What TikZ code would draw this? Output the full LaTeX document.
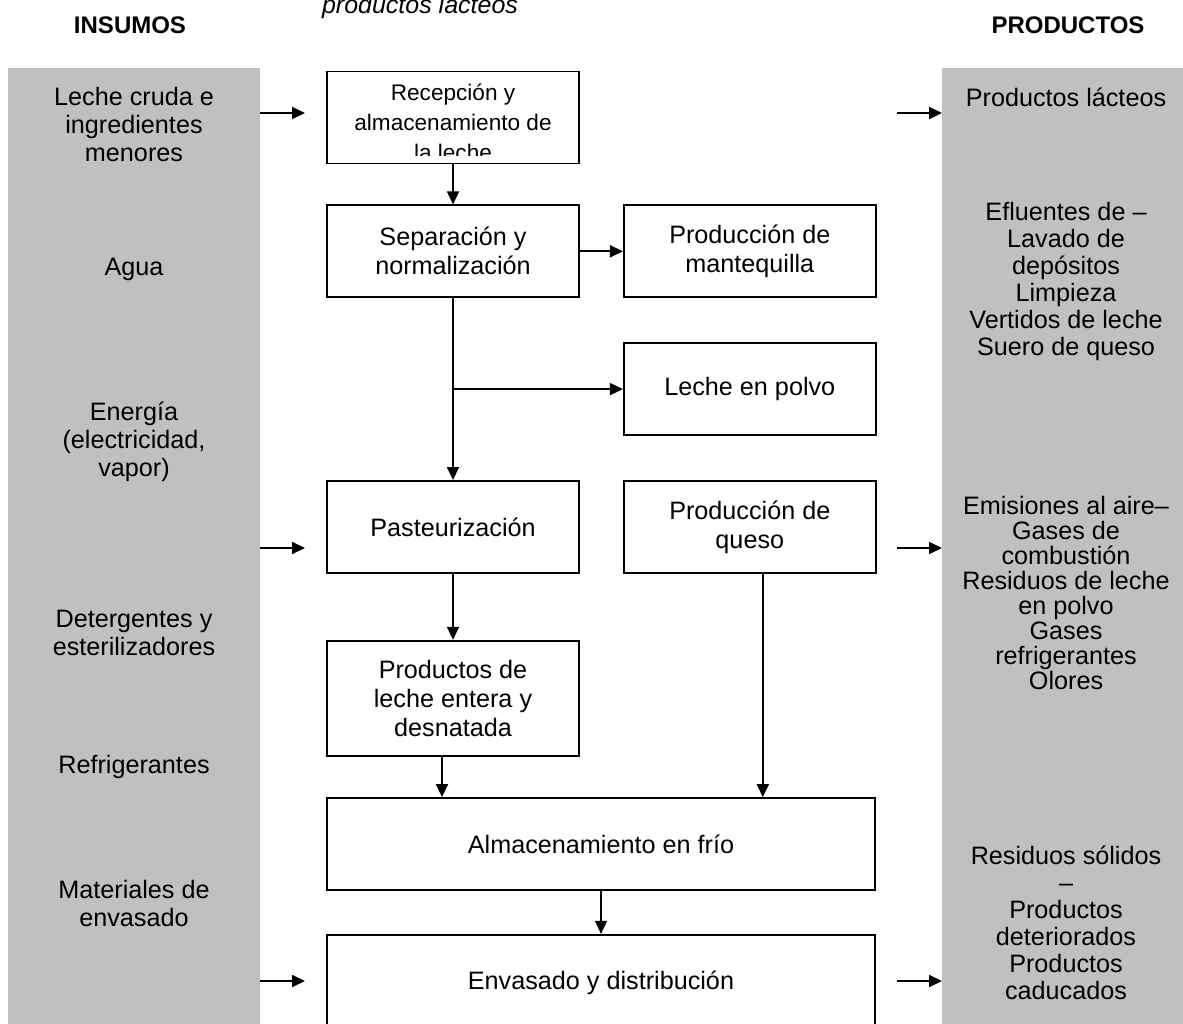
\documentclass[tikz,border=0pt]{standalone}
\usepackage{fontspec}
\setmainfont{Liberation Sans}
\usetikzlibrary{arrows.meta,positioning}

\definecolor{panelgray}{RGB}{192,192,192}

\begin{document}
\begin{tikzpicture}[x=0.5pt, y=-0.5pt,
  every node/.style={font=\fontsize{12.6}{14}\selectfont, align=center, inner sep=0pt},
  procbox/.style={draw, line width=0.9pt, minimum width=126pt, minimum height=46pt,
    font=\fontsize{12.6}{14.5}\selectfont},
  flow/.style={-{Triangle[length=6.5pt,width=6pt]}, line width=0.9pt}]
  \useasboundingbox (0,0) rectangle (1183,1023);

  % side panels
  \fill[panelgray] (8,68) rectangle (260,1040);
  \fill[panelgray] (942,68) rectangle (1200,1040);

  \node[anchor=base, font=\fontsize{12.5}{14}\selectfont\itshape] (titulo) at (420,13) {productos lácteos};
  \node[font=\fontsize{12}{14}\selectfont\bfseries] (insumos) at (130,25) {INSUMOS};
  \node[font=\fontsize{12}{14}\selectfont\bfseries] (productos) at (1068,25) {PRODUCTOS};

  % inputs
  \node (leche) at (134,124) {Leche cruda e\\ingredientes\\menores};
  \node (agua) at (134,269) {Agua};
  \node (energia) at (134,442) {Energía\\(electricidad,\\vapor)};
  \node (deterg) at (134,633) {Detergentes y\\esterilizadores};
  \node (refrig) at (134,767) {Refrigerantes};
  \node (envmat) at (134,903) {Materiales de\\envasado};

  % outputs
  \node (lacteos) at (1066,97) {Productos lácteos};
  \node[font=\fontsize{12.6}{13.5}\selectfont] (efluentes) at (1066,281) {Efluentes de –\\Lavado de\\depósitos\\Limpieza\\Vertidos de leche\\Suero de queso};
  \node[font=\fontsize{12.6}{12.5}\selectfont] (emisiones) at (1066,593) {Emisiones al aire–\\Gases de\\combustión\\Residuos de leche\\en polvo\\Gases\\refrigerantes\\Olores};
  \node[font=\fontsize{12.6}{13.5}\selectfont] (residuos) at (1066,923) {Residuos sólidos\\–\\Productos\\deteriorados\\Productos\\caducados};

  % process
  \node[procbox] (recep) at (453,117.5) {};
  \begin{scope}
    \clip (327,72) rectangle (579,155);
    \node[font=\fontsize{11.3}{15}\selectfont] (receptxt) at (453,122) {Recepción y\\almacenamiento de\\la leche};
  \end{scope}
  \node[procbox] (sep) [below=20pt of recep] {Separación y\\normalización};
  \node[procbox] (mant) [right=21.5pt of sep] {Producción de\\mantequilla};
  \node[procbox] (polvo) [below=22pt of mant] {Leche en polvo};
  \node[procbox] (queso) [below=22pt of polvo] {Producción de\\queso};
  \node[procbox] (past) [left=21.5pt of queso] {Pasteurización};
  \node[procbox, minimum height=57.5pt] (entera) [below=33pt of past] {Productos de\\leche entera y\\desnatada};
  \node[procbox, minimum width=274pt] (frio) at (601,844) {Almacenamiento en frío};
  \node[procbox, minimum width=274pt, minimum height=48pt] (envas) [below=21.5pt of frio] {Envasado y distribución};

  \draw[flow] (recep) -- (sep);
  \draw[flow] (sep) -- (mant);
  \draw[flow] (sep) -- (past);
  \coordinate (split) at (sep.south |- polvo);
  \draw[flow] (split) -- (polvo);
  \draw[flow] (past) -- (entera);
  \draw[flow] ([xshift=-5.5pt]entera.south) -- ([xshift=-5.5pt]entera.south |- frio.north);
  \draw[flow] ([xshift=6.5pt]queso.south) -- ([xshift=6.5pt]queso.south |- frio.north);
  \draw[flow] (frio) -- (envas);

  % arrows in and out
  \coordinate (inA) at (260,113);
  \coordinate (inA') at (305,113);
  \coordinate (inB) at (260,548);
  \coordinate (inB') at (305,548);
  \coordinate (inC) at (260,981);
  \coordinate (inC') at (305,981);
  \coordinate (outA) at (897,113);
  \coordinate (outA') at (942,113);
  \coordinate (outB) at (897,548);
  \coordinate (outB') at (942,548);
  \coordinate (outC) at (897,981);
  \coordinate (outC') at (942,981);

  \draw[flow] (inA) -- (inA');
  \draw[flow] (inB) -- (inB');
  \draw[flow] (inC) -- (inC');
  \draw[flow] (outA) -- (outA');
  \draw[flow] (outB) -- (outB');
  \draw[flow] (outC) -- (outC');
\end{tikzpicture}
\end{document}
